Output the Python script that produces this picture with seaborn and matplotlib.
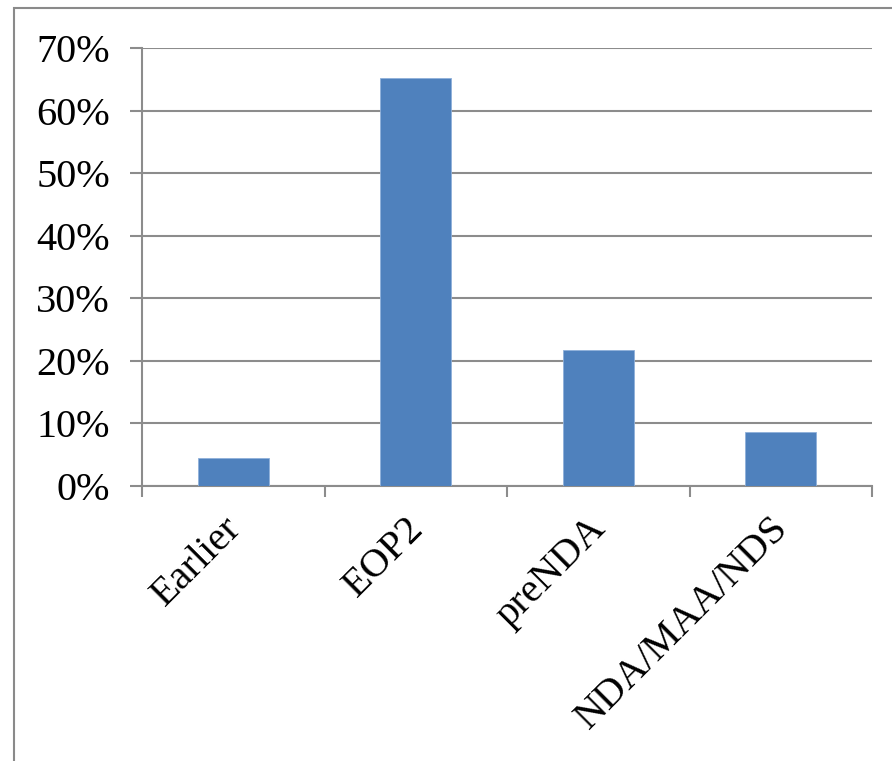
import matplotlib
matplotlib.use("Agg")
import matplotlib.pyplot as plt
import matplotlib.transforms as mtransforms
import seaborn as sns
import pandas as pd
from matplotlib.patches import Rectangle

categories = ["Earlier", "EOP2", "preNDA", "NDA/MAA/NDS"]
values = [4.5, 65.2, 21.7, 8.6]
yticks = [0, 10, 20, 30, 40, 50, 60, 70]
ytick_labels = ["0%", "10%", "20%", "30%", "40%", "50%", "60%", "70%"]

sns.set_theme(style="white")
plt.rcParams['font.family'] = ['Liberation Serif', 'DejaVu Serif']

df = pd.DataFrame({"cat": categories, "val": values})

fig = plt.figure(figsize=(8.92, 7.61), dpi=100)
ax = fig.add_axes([142/892, 1-486/761, (872-142)/892, (486-48)/761])

sns.barplot(data=df, x="cat", y="val", color="#4F81BD", width=0.39,
            saturation=1, edgecolor="#8FB0DA", linewidth=0.6, ax=ax, zorder=3)

grid_c = "#8C8C8C"
ax.set_ylim(0, 70)
ax.set_xlim(-0.5, 3.5)
ax.set_yticks(yticks)
ax.set_yticklabels(ytick_labels, fontsize=29, color="black")
ax.yaxis.grid(True, color=grid_c, linewidth=1.5, zorder=0)
ax.set_axisbelow(True)
for s in ["top", "right"]:
    ax.spines[s].set_visible(False)
for s in ["left", "bottom"]:
    ax.spines[s].set_color(grid_c)
    ax.spines[s].set_linewidth(1.5)
ax.tick_params(axis="y", which="major", length=9, width=1.5, color=grid_c,
               pad=14, left=True)
ax.set_xticks([-0.5, 0.5, 1.5, 2.5, 3.5], minor=False)
ax.set_xticklabels([])
ax.tick_params(axis="x", which="major", length=8, width=1.5, color=grid_c, bottom=True)
ax.set_xticks([0, 1, 2, 3], minor=True)
ax.set_xticklabels(categories, minor=True, rotation=45, ha="right",
                   rotation_mode="anchor", fontsize=29, color="black")
ax.tick_params(axis="x", which="minor", length=0, pad=20)
offset = mtransforms.ScaledTranslation(-11/100, 4/100, fig.dpi_scale_trans)
for lbl in ax.xaxis.get_minorticklabels():
    lbl.set_transform(lbl.get_transform() + offset)
ax.set_xlabel("")
ax.set_ylabel("")

fig.patches.append(Rectangle((14/892, -0.05), 1.1, 1-8/761+0.05,
                             transform=fig.transFigure, fill=False,
                             edgecolor="#8A8A8A", linewidth=1.5))

fig.savefig("out.png", dpi=100)
